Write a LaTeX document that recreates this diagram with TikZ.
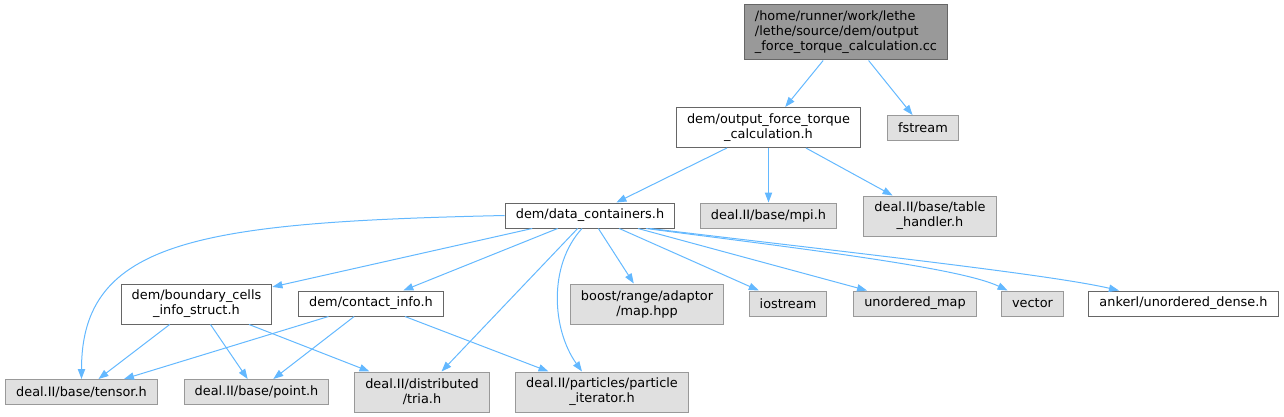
\documentclass[tikz,border=0pt]{standalone}
\usepackage{fontspec}
\newfontfamily\doxsans{DejaVu Sans}
\usepackage{tikz}
\usetikzlibrary{arrows.meta}
\usepackage{xcolor}
\definecolor{edgeblue}{HTML}{63B8FF}
\definecolor{boxgray}{HTML}{E0E0E0}
\definecolor{rimgray}{HTML}{999999}
\definecolor{rimdark}{HTML}{666666}

\begin{document}
\begin{tikzpicture}[x=0.75pt,y=-0.75pt,
    filebox/.style={draw=rimdark, fill=white, line width=0.75pt, inner xsep=8pt, inner ysep=2pt,
        minimum height=18.75pt, align=center, font=\doxsans\fontsize{9.65}{11.25}\selectfont},
    sysbox/.style={filebox, draw=rimgray, fill=boxgray},
    srcbox/.style={filebox, fill=rimgray, align=left},
    twoline/.style={minimum height=30pt},
    threeline/.style={minimum height=41.25pt},
    dep/.style={draw=edgeblue, line width=0.75pt, -{Triangle[length=7.5pt,width=5.5pt]}}]
    \useasboundingbox (0,0) rectangle (1284,417);

    % 源文件
    \node[srcbox, threeline] (src) at (846,32.5) {/home/runner/work/lethe\\/lethe/source/dem/output\\\_force\_torque\_calculation.cc};

    % 第二层
    \node[filebox, twoline] (oftc) at (768.5,127.5) {dem/output\_force\_torque\\\_calculation.h};
    \node[sysbox] (fstr) at (923,128) {fstream};

    % 第三层
    \node[filebox] (dcont) at (590,215.5) {dem/data\_containers.h};
    \node[sysbox] (mpi) at (768.5,215.5) {deal.II/base/mpi.h};
    \node[sysbox, twoline] (tabh) at (930,216) {deal.II/base/table\\\_handler.h};

    % 第四层
    \node[filebox, twoline] (bcis) at (196.5,304) {dem/boundary\_cells\\\_info\_struct.h};
    \node[filebox] (cinfo) at (371,303.5) {dem/contact\_info.h};
    \node[sysbox, twoline] (boost) at (647,304) {boost/range/adaptor\\/map.hpp};
    \node[sysbox] (iostr) at (788,303.5) {iostream};
    \node[sysbox] (umap) at (915,303.5) {unordered\_map};
    \node[sysbox] (vect) at (1032.5,303.5) {vector};
    \node[filebox] (ankerl) at (1183.5,303.5) {ankerl/unordered\_dense.h};

    % 最底层
    \node[sysbox] (tensor) at (81.5,392) {deal.II/base/tensor.h};
    \node[sysbox] (point) at (256.5,392) {deal.II/base/point.h};
    \node[sysbox, twoline] (tria) at (422,392) {deal.II/distributed\\/tria.h};
    \node[sysbox, twoline] (piter) at (602,392) {deal.II/particles/particle\\\_iterator.h};

    % 依赖箭头
    \draw[dep] (src) -- (oftc);
    \draw[dep] (src) -- (fstr);
    \draw[dep] (oftc) -- (dcont);
    \draw[dep] (oftc) -- (mpi);
    \draw[dep] (oftc) -- (tabh);

    \draw[dep] (dcont.west) .. controls +(-229pt,-5pt) and +(0pt,104pt) .. (tensor.north);
    \draw[dep] (dcont) -- (bcis);
    \draw[dep] (dcont) -- (cinfo);
    \draw[dep] (dcont) -- (tria);
    \draw[dep] ([xshift=-6pt]dcont.south) .. controls +(-25.5pt,-27.75pt) and +(-22.5pt,31.5pt) .. ([xshift=-15pt]piter.north);
    \draw[dep] (dcont) -- (boost);
    \draw[dep] (dcont) -- (iostr);
    \draw[dep] (dcont) -- (umap);
    \draw[dep] ([xshift=-22pt]dcont.south east) .. controls +(115.5pt,-15pt) and +(-36pt,17.25pt) .. ([xshift=5pt]vect.north west);
    \draw[dep] ([xshift=-19pt]dcont.south east) .. controls +(150pt,-18pt) and +(-51.75pt,12pt) .. ([xshift=23pt]ankerl.north west);

    \draw[dep] (bcis) -- (tensor);
    \draw[dep] (bcis) -- (point);
    \draw[dep] (bcis) -- (tria);
    \draw[dep] (cinfo) -- (tensor);
    \draw[dep] (cinfo) -- (point);
    \draw[dep] (cinfo) -- (piter);
\end{tikzpicture}
\end{document}
